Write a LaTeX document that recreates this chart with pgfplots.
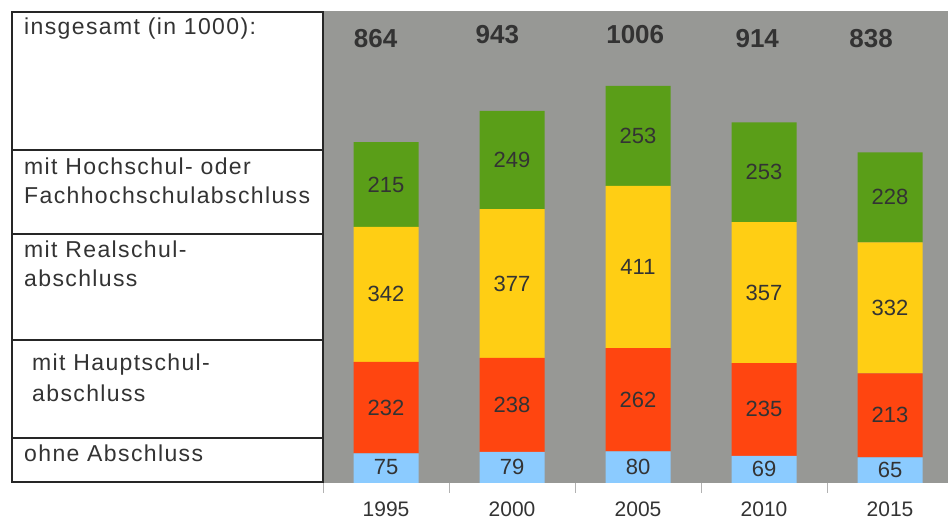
\documentclass[border=0pt]{standalone}
\usepackage{fontspec}
\setmainfont{Liberation Sans}
\newfontfamily\tabfont[LetterSpace=6]{Liberation Sans}
\usepackage{pgfplots}
\pgfplotsset{compat=1.18}
\definecolor{bggray}{RGB}{151,152,149}
\definecolor{cgreen}{RGB}{90,158,24}
\definecolor{cyellow}{RGB}{255,206,20}
\definecolor{cred}{RGB}{255,69,16}
\definecolor{cblue}{RGB}{139,203,255}
\definecolor{txt}{RGB}{51,51,51}
\begin{document}
\begin{tikzpicture}[x=1pt,y=1pt]
\path[use as bounding box] (0,0) rectangle (948,521);
\pgfplotsset{common/.style={
  at={(323pt,38pt)}, anchor=south west,
  width=625pt, height=472pt, scale only axis,
  xmin=-0.5, xmax=4.46, ymin=0, ymax=1196}}
\begin{axis}[common,
  ybar stacked, bar width=65pt,
  axis background/.style={fill=bggray},
  axis line style={draw=none},
  ytick=\empty,
  xtick={0,1,2,3,4},
  xticklabels={\mbox{1995},\mbox{2000},\mbox{2005},\mbox{2010},\mbox{2015}},
  xtick pos=bottom,
  major tick length=0pt,
  xticklabel style={font=\fontsize{21}{21}\selectfont, text=txt, yshift=-15pt},
  extra x ticks={-0.5,0.5,1.5,2.5,3.5},
  extra x tick labels={},
  extra x tick style={major tick length=10pt, tick align=outside,
    tick style={draw=black!30, line width=0.8pt}},
]
\addplot[fill=cblue, draw=none] coordinates {(0,75) (1,79) (2,80) (3,69) (4,65)};
\addplot[fill=cred, draw=none] coordinates {(0,232) (1,238) (2,262) (3,235) (4,213)};
\addplot[fill=cyellow, draw=none] coordinates {(0,342) (1,377) (2,411) (3,357) (4,332)};
\addplot[fill=cgreen, draw=none] coordinates {(0,215) (1,249) (2,253) (3,253) (4,228)};
\end{axis}
\begin{axis}[common, hide axis]
\addplot[only marks, mark=none, nodes near coords, point meta=explicit symbolic,
  every node near coord/.append style={anchor=center, inner sep=0pt, text=txt,
    font=\fontsize{22}{22}\selectfont}]
  table[meta=lab] {
x y lab
0 40 75
1 40 79
2 41 80
3 36 69
4 34 65
0 191 232
1 198 238
2 211 262
3 186.5 235
4 171.5 213
0 478 342
1 505.5 377
2 547.5 411
3 482.5 357
4 444 332
0 756.5 215
1 818.5 249
2 879.5 253
3 787.5 253
4 724 228
};
\addplot[only marks, mark=none, nodes near coords, point meta=explicit symbolic,
  every node near coord/.append style={anchor=center, inner sep=0pt, text=txt,
    font=\fontsize{26}{26}\bfseries\selectfont}]
  table[meta=lab] {
x y lab
-0.083 1127 864
0.884 1135 943
1.978 1136 1006
2.946 1125 914
3.85 1127 838
};
\end{axis}
% table on the left
\begin{scope}[line width=1.8pt, draw=black!85]
\fill[white] (12,39) rectangle (323,509);
\draw (12,39) rectangle (323,509);
\draw (12,371) -- (323,371);
\draw (12,287) -- (323,287);
\draw (12,181) -- (323,181);
\draw (12,83) -- (323,83);
\end{scope}
\begin{scope}[every node/.style={anchor=base west, inner sep=0pt, text=txt,
   font=\tabfont\fontsize{23}{23}\selectfont}]
\node at (24,486) {insgesamt (in 1000):};
\node at (24,346) {mit Hochschul- oder};
\node at (24,317) {Fachhochschulabschluss};
\node at (24,263) {mit Realschul-};
\node at (24,234) {abschluss};
\node at (32,150) {mit Hauptschul-};
\node at (32,119) {abschluss};
\node at (24,59) {ohne Abschluss};
\end{scope}
\end{tikzpicture}
\end{document}
